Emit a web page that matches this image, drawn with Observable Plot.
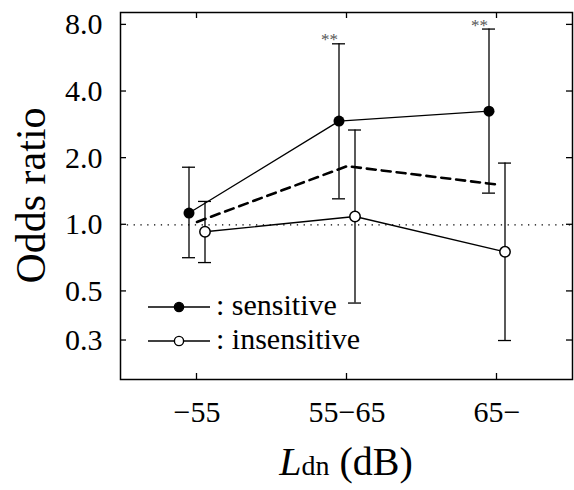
<!DOCTYPE html>
<html>
<head>
<meta charset="utf-8">
<script src="https://cdn.jsdelivr.net/npm/d3@7"></script>
<script src="https://cdn.jsdelivr.net/npm/@observablehq/plot@0.6"></script>
<style>
  html, body { margin: 0; padding: 0; background: #fff; }
</style>
</head>
<body>
<div id="chart"></div>
<script>
// ---- data ----
const categories = ["\u221255", "55\u221265", "65\u2212"];
const sensitiveOR = [1.13, 2.94, 3.26];
const sensitiveLo = [0.71, 1.31, 1.39];
const sensitiveHi = [1.82, 6.57, 7.66];
const sensitiveSig = ["", "**", "**"];
const insensitiveOR = [0.93, 1.09, 0.755];
const insensitiveLo = [0.675, 0.443, 0.30];
const insensitiveHi = [1.275, 2.68, 1.90];
const overallOR = [1.03, 1.84, 1.52];
const yTicks = [0.3, 0.5, 1.0, 2.0, 4.0, 8.0];
const legendLabels = [": sensitive", ": insensitive"];
const xLabelParts = ["L", "dn", " (dB)"];
const yLabel = "Odds ratio";

(function () {
const sens = categories.map((c, i) => ({cat: c, or: sensitiveOR[i], lo: sensitiveLo[i], hi: sensitiveHi[i], sig: sensitiveSig[i]}));
const ins = categories.map((c, i) => ({cat: c, or: insensitiveOR[i], lo: insensitiveLo[i], hi: insensitiveHi[i]}));
const all = categories.map((c, i) => ({cat: c, or: overallOR[i]}));

const OFF = 8; // horizontal offset of the two groups
const W = 574, H = 490;
const mT = 12, mB = 111, mL = 120, mR = 2;
const serif = "'Liberation Serif', 'Times New Roman', serif";

const chart = Plot.plot({
  width: W,
  height: H,
  marginTop: mT,
  marginLeft: mL,
  marginRight: mR,
  marginBottom: mB,
  style: {fontFamily: serif, background: "#fff", color: "#000"},
  x: {type: "band", domain: categories, paddingInner: 0.914, paddingOuter: 0.457, axis: null},
  y: {type: "log", domain: [0.2, 9.1], axis: null},
  marks: [
    Plot.ruleY([1], {strokeDasharray: "1.3,5.5", strokeWidth: 1.3}),
    Plot.line(all, {x: "cat", y: "or", strokeWidth: 2.6, strokeDasharray: "9,6"}),
    Plot.ruleX(sens, {x: "cat", y1: "lo", y2: "hi", dx: -OFF, strokeWidth: 1.3}),
    Plot.tickY(sens, {x: "cat", y: "lo", dx: -OFF, strokeWidth: 1.3}),
    Plot.tickY(sens, {x: "cat", y: "hi", dx: -OFF, strokeWidth: 1.3}),
    Plot.line(sens, {x: "cat", y: "or", dx: -OFF, strokeWidth: 1.3}),
    Plot.dot(sens, {x: "cat", y: "or", dx: -OFF, r: 5.5, fill: "#000", stroke: "none"}),
    Plot.text(sens.filter(d => d.sig), {x: "cat", y: "hi", text: "sig", dx: -OFF - 1, dy: -4, textAnchor: "end", fill: "#555", fontSize: 17}),
    Plot.ruleX(ins, {x: "cat", y1: "lo", y2: "hi", dx: OFF, strokeWidth: 1.3}),
    Plot.tickY(ins, {x: "cat", y: "lo", dx: OFF, strokeWidth: 1.3}),
    Plot.tickY(ins, {x: "cat", y: "hi", dx: OFF, strokeWidth: 1.3}),
    Plot.line(ins, {x: "cat", y: "or", dx: OFF, strokeWidth: 1.3}),
    Plot.dot(ins, {x: "cat", y: "or", dx: OFF, r: 5.2, fill: "#fff", stroke: "#000", strokeWidth: 1.5}),
    // tick labels
    Plot.text(yTicks, {y: d => d, text: d => d.toFixed(1), frameAnchor: "left", dx: -18, textAnchor: "end", lineAnchor: "middle", fontSize: 30, fill: "#000"}),
    Plot.text(categories, {x: d => d, text: d => d, frameAnchor: "bottom", dy: 33, textAnchor: "middle", lineAnchor: "middle", fontSize: 30, fill: "#000"}),
    Plot.frame({strokeWidth: 1.5})
  ]
});

document.getElementById("chart").appendChild(chart);

const svg = d3.select(chart);
const ys = chart.scale("y"), xs = chart.scale("x");
const x0 = mL, x1 = W - mR, y0 = mT, y1 = H - mB, TL = 6;

// inward tick marks on all four sides, positioned by Plot's scales
const tg = svg.append("g").attr("stroke", "#000").attr("stroke-width", 1.3);
yTicks.forEach(v => {
  const py = ys.apply(v);
  tg.append("line").attr("x1", x0).attr("x2", x0 + TL).attr("y1", py).attr("y2", py);
  tg.append("line").attr("x1", x1).attr("x2", x1 - TL).attr("y1", py).attr("y2", py);
});
categories.forEach(c => {
  const px = xs.apply(c) + xs.bandwidth / 2;
  tg.append("line").attr("x1", px).attr("x2", px).attr("y1", y1).attr("y2", y1 - TL);
  tg.append("line").attr("x1", px).attr("x2", px).attr("y1", y0).attr("y2", y0 + TL);
});

svg.append("text")
  .attr("transform", `translate(45,${(y0 + y1) / 2}) rotate(-90)`)
  .attr("text-anchor", "middle")
  .attr("font-family", serif)
  .attr("font-size", 42)
  .attr("fill", "#000")
  .text(yLabel);

const xl = svg.append("text")
  .attr("x", (x0 + x1) / 2)
  .attr("y", 475)
  .attr("text-anchor", "middle")
  .attr("font-family", serif)
  .attr("font-size", 40)
  .attr("fill", "#000");
xl.append("tspan").attr("font-style", "italic").text(xLabelParts[0]);
xl.append("tspan").attr("font-size", 28).text(xLabelParts[1]);
xl.append("tspan").text(xLabelParts[2]);

const lg = svg.append("g");
const legendRows = [
  {y: 307, fill: "#000", label: legendLabels[0]},
  {y: 341, fill: "#fff", label: legendLabels[1]}
];
legendRows.forEach(r => {
  lg.append("line").attr("x1", 148).attr("x2", 210).attr("y1", r.y).attr("y2", r.y)
    .attr("stroke", "#000").attr("stroke-width", 1.3);
  lg.append("circle").attr("cx", 179).attr("cy", r.y).attr("r", 4.6)
    .attr("fill", r.fill).attr("stroke", "#000").attr("stroke-width", 1.4);
  lg.append("text").attr("x", 216).attr("y", r.y + 8)
    .attr("text-anchor", "start")
    .attr("font-family", serif)
    .attr("font-size", 30).attr("fill", "#000").text(r.label);
});
})();
</script>
</body>
</html>
